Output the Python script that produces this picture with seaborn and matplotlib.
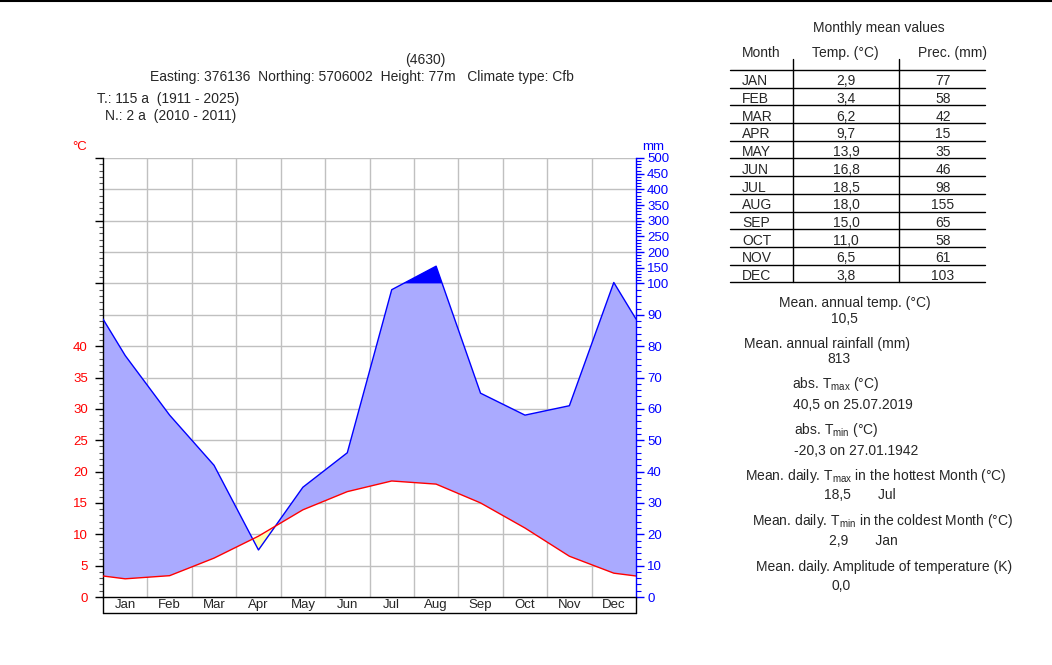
import numpy as np
import pandas as pd
import matplotlib
matplotlib.use('Agg')
import matplotlib.pyplot as plt
from matplotlib.lines import Line2D
from matplotlib.ticker import FixedLocator, NullFormatter
import seaborn as sns

# Station data (monthly means)
months = ['Jan', 'Feb', 'Mar', 'Apr', 'May', 'Jun', 'Jul', 'Aug', 'Sep', 'Oct', 'Nov', 'Dec']
month_codes = ['JAN', 'FEB', 'MAR', 'APR', 'MAY', 'JUN', 'JUL', 'AUG', 'SEP', 'OCT', 'NOV', 'DEC']
temp_c = [2.9, 3.4, 6.2, 9.7, 13.9, 16.8, 18.5, 18.0, 15.0, 11.0, 6.5, 3.8]
prec_mm = [77, 58, 42, 15, 35, 46, 98, 155, 65, 58, 61, 103]

station_id = '(4630)'
station_info = 'Easting: 376136  Northing: 5706002  Height: 77m   Climate type: Cfb'
temp_period = 'T.: 115 a  (1911 - 2025)'
prec_period = 'N.: 2 a  (2010 - 2011)'
abs_tmax = '40,5 on 25.07.2019'
abs_tmin = '-20,3 on 27.01.1942'
amplitude = '0,0'

left_ticks = [0, 5, 10, 15, 20, 25, 30, 35, 40, 50, 60, 70]
left_labels = ['0', '5', '10', '15', '20', '25', '30', '35', '40', '', '', '']
right_ticks_mm = [0, 10, 20, 30, 40, 50, 60, 70, 80, 90, 100, 150, 200, 250, 300, 350, 400, 450, 500]

W, H = 1052, 665


def fx(x):
    return x / W


def fy(y):
    return 1 - y / H


def mm_to_axis(mm):
    # Walter-Lieth scale: 20 mm = 10 degC up to 100 mm, compressed 1:10 above
    mm = np.asarray(mm, dtype=float)
    return np.where(mm <= 100, mm / 2, 50 + (mm - 100) / 20)


def comma(v):
    return f'{v:.1f}'.replace('.', ',')


sns.set_style('white')
plt.rcParams['font.family'] = ['Liberation Sans', 'DejaVu Sans']
plt.rcParams['mathtext.fontset'] = 'custom'
plt.rcParams['mathtext.rm'] = 'Liberation Sans'
plt.rcParams['mathtext.it'] = 'Liberation Sans'

# curve table: month centres plus wrap-around edge values
edge_t = (temp_c[0] + temp_c[-1]) / 2
edge_p = (mm_to_axis(prec_mm[0]) + mm_to_axis(prec_mm[-1])) / 2
df = pd.DataFrame({
    'x': [0.0] + [i + 0.5 for i in range(12)] + [12.0],
    'temp': [edge_t] + temp_c + [edge_t],
    'prec': np.concatenate([[edge_p], mm_to_axis(prec_mm), [edge_p]]),
})

fig = plt.figure(figsize=(W / 100, H / 100), dpi=100)
ax = fig.add_axes([fx(103), fy(597), fx(636) - fx(103), fy(158) - fy(597)])
ax.set_xlim(0, 12)
ax.set_ylim(0, 70)

grid_c = '#c0c0c0'
for yv in range(5, 75, 5):
    ax.axhline(yv, color=grid_c, lw=1, zorder=0)
for xv in range(1, 12):
    ax.axvline(xv, color=grid_c, lw=1, zorder=0)

x = df['x'].values
t = df['temp'].values
p = df['prec'].values
ax.fill_between(x, t, p, where=p >= t, interpolate=True, color='#aaaaff', lw=0, zorder=1)
ax.fill_between(x, t, p, where=t > p, interpolate=True, color='#ffffb0', lw=0, zorder=1)
ax.fill_between(x, 50, p, where=p > 50, interpolate=True, color='#0000ff', lw=0, zorder=1)

sns.lineplot(data=df, x='x', y='prec', color='#0000ff', lw=1, estimator=None, ax=ax, zorder=3)
sns.lineplot(data=df, x='x', y='temp', color='#ff0000', lw=1, estimator=None, ax=ax, zorder=3)
ax.set_xlabel('')
ax.set_ylabel('')

ax.spines['top'].set_visible(False)
ax.spines['right'].set_visible(False)
for s in ['left', 'bottom']:
    ax.spines[s].set_color('black')
    ax.spines[s].set_linewidth(1)

# x axis: boundaries as ticks, month names centred
ax.xaxis.set_major_locator(FixedLocator(range(13)))
ax.xaxis.set_major_formatter(NullFormatter())
ax.xaxis.set_minor_locator(FixedLocator([i + 0.5 for i in range(12)]))
ax.set_xticklabels(months, minor=True)
ax.tick_params(axis='x', which='major', direction='out', length=9, width=1, color='black')
ax.tick_params(axis='x', which='minor', length=0, pad=1.5, labelsize=9.5)

# left temperature axis
ax.yaxis.set_major_locator(FixedLocator(left_ticks))
ax.set_yticklabels(left_labels)
ax.yaxis.set_minor_locator(FixedLocator(range(0, 71)))
ax.tick_params(axis='y', which='major', direction='out', length=6, width=1, color='black',
               labelcolor='red', labelsize=9.5, pad=5)
ax.tick_params(axis='y', which='minor', direction='out', length=3, width=0.8, color='#555555')
ax.yaxis.get_major_ticks()[0].tick1line.set_color('red')

# right precipitation axis
ax2 = ax.twinx()
ax2.set_ylim(0, 70)
ax2.yaxis.set_major_locator(FixedLocator(mm_to_axis(right_ticks_mm)))
ax2.set_yticklabels([str(v) for v in right_ticks_mm])
ax2.yaxis.set_minor_locator(FixedLocator(np.concatenate([mm_to_axis(np.arange(0, 100, 2)),
                                                         mm_to_axis(np.arange(100, 500, 10))])))
ax2.tick_params(axis='y', which='major', direction='out', length=6, width=1, color='#0000ff',
                labelcolor='#0000ff', labelsize=9.5, pad=2)
ax2.tick_params(axis='y', which='minor', direction='out', length=3.5, width=0.8, color='#0000ff')
for s in ['top', 'left', 'bottom']:
    ax2.spines[s].set_visible(False)
ax2.spines['right'].set_color('#0000ff')
ax2.spines['right'].set_linewidth(1)

# label box under the month axis and top border
fig.add_artist(Line2D([fx(103), fx(636)], [fy(613), fy(613)], color='black', lw=1))
fig.add_artist(Line2D([fx(103), fx(103)], [fy(597), fy(613)], color='black', lw=1))
fig.add_artist(Line2D([fx(636), fx(636)], [fy(597), fy(613)], color='black', lw=1))
fig.add_artist(Line2D([0, 1], [fy(1), fy(1)], color='black', lw=1.5))

fs = 10
fig.text(fx(80), fy(147), '°C', color='red', fontsize=9.5, ha='center', va='center')
fig.text(fx(653), fy(147), 'mm', color='#0000ff', fontsize=9.5, ha='center', va='center')

fig.text(fx(425), fy(60), station_id, fontsize=fs, ha='center', va='center')
fig.text(fx(150), fy(77), station_info, fontsize=fs, ha='left', va='center')
fig.text(fx(97), fy(99), temp_period, fontsize=fs, ha='left', va='center')
fig.text(fx(105), fy(116), prec_period, fontsize=fs, ha='left', va='center')

# monthly table
fig.text(fx(879), fy(28), 'Monthly mean values', fontsize=fs, ha='center', va='center')
fig.text(fx(742), fy(53), 'Month', fontsize=fs, ha='left', va='center')
fig.text(fx(845), fy(53), 'Temp. (°C)', fontsize=fs, ha='center', va='center')
fig.text(fx(952), fy(53), 'Prec. (mm)', fontsize=fs, ha='center', va='center')
row_h = 17.7
top_line = 70
for k in range(13):
    yy = top_line + k * row_h
    fig.add_artist(Line2D([fx(730), fx(985)], [fy(yy), fy(yy)], color='black', lw=1))
for xv in [793, 899]:
    fig.add_artist(Line2D([fx(xv), fx(xv)], [fy(59), fy(top_line + 12 * row_h)], color='black', lw=1))
for k, (code, tv, pv) in enumerate(zip(month_codes, temp_c, prec_mm)):
    yy = top_line + (k + 0.5) * row_h + 1
    fig.text(fx(742), fy(yy), code, fontsize=fs, ha='left', va='center_baseline')
    fig.text(fx(846), fy(yy), comma(tv), fontsize=fs, ha='center', va='center_baseline')
    fig.text(fx(943), fy(yy), str(pv), fontsize=fs, ha='center', va='center_baseline')

# summary values
i_hot = int(np.argmax(temp_c))
i_cold = int(np.argmin(temp_c))
stats = [
    (855, 303, 'Mean. annual temp. (°C)'),
    (844, 319, comma(np.mean(temp_c))),
    (827, 344, 'Mean. annual rainfall (mm)'),
    (839, 359, str(int(np.sum(prec_mm)))),
    (836, 384, r'abs. T$_{\mathrm{max}}$ (°C)'),
    (853, 405, abs_tmax),
    (836, 430, r'abs. T$_{\mathrm{min}}$ (°C)'),
    (856, 451, abs_tmin),
    (876, 476, r'Mean. daily. T$_{\mathrm{max}}$ in the hottest Month (°C)'),
    (860, 495, comma(temp_c[i_hot]) + '       ' + months[i_hot]),
    (883, 521, r'Mean. daily. T$_{\mathrm{min}}$ in the coldest Month (°C)'),
    (863, 541, comma(temp_c[i_cold]) + '       ' + months[i_cold]),
    (884, 567, 'Mean. daily. Amplitude of temperature (K)'),
    (841, 586, amplitude),
]
for xx, yy, s in stats:
    fig.text(fx(xx), fy(yy), s, fontsize=fs, ha='center', va='center')

fig.savefig('out.png', dpi=100)
